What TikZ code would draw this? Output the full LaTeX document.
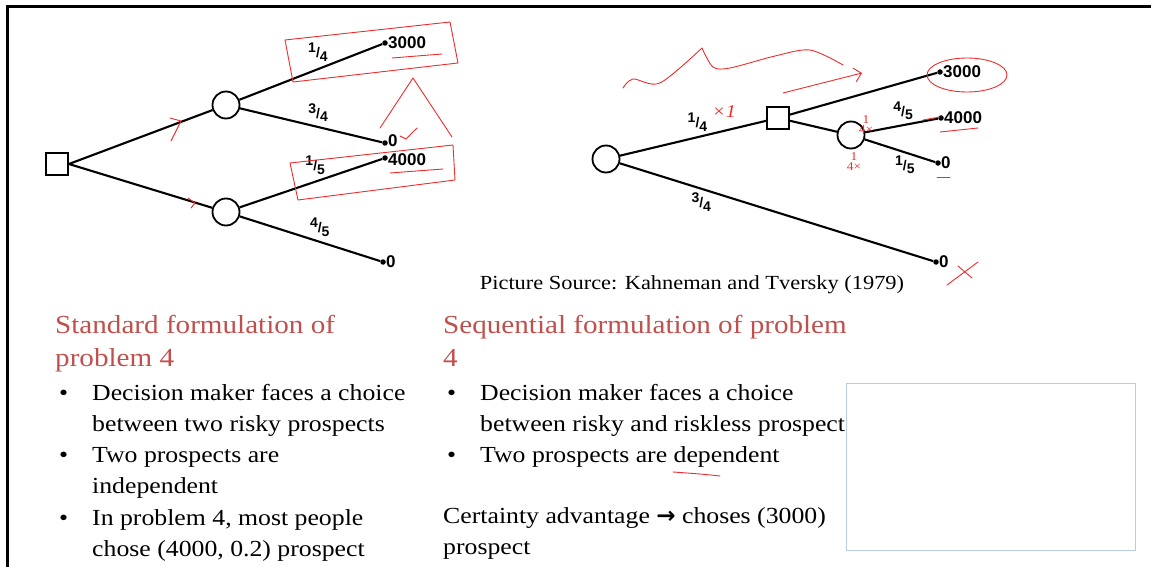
\documentclass[tikz,border=0pt]{standalone}
\usepackage{fontspec}
\setmainfont{Liberation Serif}[FakeStretch=1.12]
\newfontfamily\treefont{Liberation Sans}
\newfontfamily\symfont{DejaVu Sans}
\usetikzlibrary{arrows.meta}
\definecolor{headred}{RGB}{192,80,77}
\definecolor{boxblue}{RGB}{185,205,229}
\definecolor{inkred}{RGB}{235,45,45}
% slanted fraction for the branch labels
\newcommand{\fr}[2]{\raisebox{.7ex}{#1}/\raisebox{-.5ex}{#2}}
\tikzset{
  decbox/.style={draw,line width=1.8pt,minimum size=22pt,inner sep=0},
  chance/.style={circle,draw,line width=1.8pt,minimum size=27pt,inner sep=0},
  leaf/.style={circle,fill,inner sep=0,minimum size=5.5pt},
  branch/.style={line width=2.1pt},
  prob/.style={font=\treefont\bfseries\fontsize{14}{14}\selectfont,inner sep=1pt},
  payoff/.style={font=\treefont\bfseries\fontsize{17}{17}\selectfont,inner sep=0pt},
  head/.style={anchor=base west,align=left,text=headred,inner sep=0,
    font=\fontsize{26}{33}\selectfont},
  body/.style={anchor=base west,align=left,inner sep=0,
    font=\fontsize{23}{31.3}\selectfont},
  ink/.style={inkred,line width=.9pt,line cap=round,line join=round}
}
\newcommand{\bul}{\llap{\textbullet\hspace{24pt}}}
\begin{document}
\begin{tikzpicture}[x=1pt,y=-1pt]
\useasboundingbox (0,0) rectangle (1151,567);
\draw[line width=3pt] (7,567) -- (7,7) -- (1151,7);

% standard formulation
\node[decbox] (d0) at (57,164) {};
\node[chance] (c1) at (226,105) {};
\node[chance] (c2) at (226,212) {};
\node[leaf,label={[payoff]right:3000}] (l1) at (385,43) {};
\node[leaf,label={[payoff,yshift=2pt]right:0}] (l2) at (385,143) {};
\node[leaf,label={[payoff,yshift=-2pt]right:4000}] (l3) at (385,158) {};
\node[leaf,label={[payoff]right:0}] (l4) at (383,262) {};
\draw[branch] (d0.east) -- (c1) (d0.east) -- (c2)
    (c1) -- (l1) node[prob,pos=.55,above=6pt]{\fr14}
    (c1) -- (l2) node[prob,pos=.55,above=3pt]{\fr34}
    (c2) -- (l3) node[prob,pos=.53,above=5pt]{\fr15}
    (c2) -- (l4) node[prob,pos=.57,above=3pt]{\fr45};

% sequential formulation
\node[chance] (s0) at (606,159) {};
\node[decbox] (s1) at (778,118) {};
\node[chance] (s2) at (851,135) {};
\node[leaf,label={[payoff]right:3000}] (m1) at (940,72) {};
\node[leaf,label={[payoff]right:4000}] (m2) at (941,118) {};
\node[leaf,label={[payoff]right:0}] (m3) at (938,163) {};
\node[leaf,label={[payoff]right:0}] (m4) at (936,262) {};
\draw[branch] (s0) -- (s1) node[prob,pos=.53,above=4pt]{\fr14}
    (s0) -- (m4) node[prob,pos=.26,below=2pt]{\fr34}
    (s1) -- (m1) (s1) -- (s2)
    (s2) -- (m2) node[prob,pos=.52,above=3pt]{\fr45}
    (s2) -- (m3) node[prob,pos=.57,below=1pt]{\fr15};

\node[anchor=base,font=\fontsize{20}{20}\selectfont] (src) at (692,289)
  {Picture Source: Kahneman and Tversky (1979)};

% text columns
\node[head] (h1) at (55,366) {Standard formulation of\\problem 4};
\node[body] (t1) at (92,556.5) {\bul Decision maker faces a choice\\between two risky prospects\\
  \bul Two prospects are\\independent\\
  \bul In problem 4, most people\\chose (4000, 0.2) prospect};
\node[head] (h2) at (443,366) {Sequential formulation of problem\\4};
\node[body] (t2) at (480,462.6) {\bul Decision maker faces a choice\\between risky and riskless prospect\\
  \bul Two prospects are dependent};
\node[body] (t3) at (443,554.3) {Certainty advantage {\symfont\bfseries →} choses (3000)\\prospect};
\node[draw=boxblue,line width=1.2pt,minimum width=289pt,minimum height=167pt,
  anchor=north west,inner sep=0] (ph) at (846,383) {};

% pen marks
\draw[ink] (285,40) -- (450,22) -- (458,63) -- (293,82) -- cycle;
\draw[ink] (392,58) -- (442,54);
\draw[ink] (380,128) -- (413,78) -- (452,137);
\draw[ink] (400,136) -- (406,139) -- (417,128);
\draw[ink] (290,163) -- (453,145) -- (455,180) -- (298,200) -- cycle;
\draw[ink] (390,173) -- (443,169);
\draw[ink] (170,118) -- (181,121) -- (171,141);
\draw[ink] (188,198) -- (195,203) -- (191,208);
\draw[ink] plot[smooth] coordinates {(623,88) (633,79) (660,83) (702,48)}
  plot[smooth] coordinates {(702,48) (713,67) (730,68) (775,56) (810,50) (843,65)};
\draw[ink,-{Straight Barb[length=7pt]}] (783,93) -- (862,73);
\draw[ink] (967,75) ellipse (40 and 17);
\draw[ink] (940,132) -- (978,128);
\draw[ink] (923,120) -- (940,117);
\draw[ink] (937,177) -- (950,177);
\draw[ink] (947,285) -- (978,262) (958,266) -- (972,278);
\draw[ink] plot[smooth] coordinates {(673,472) (700,474) (720,476)};
\node[text=inkred,font=\fontsize{18}{18}\selectfont\itshape,inner sep=0] (x1) at (724,112) {×1};
\node[text=inkred,font=\fontsize{12}{12}\selectfont,inner sep=0,align=center] (x2) at (866,125) {1\\[-2pt]4×};
\node[text=inkred,font=\fontsize{12}{12}\selectfont,inner sep=0,align=center] (x3) at (854,162) {1\\[-2pt]4×};
\end{tikzpicture}
\end{document}
